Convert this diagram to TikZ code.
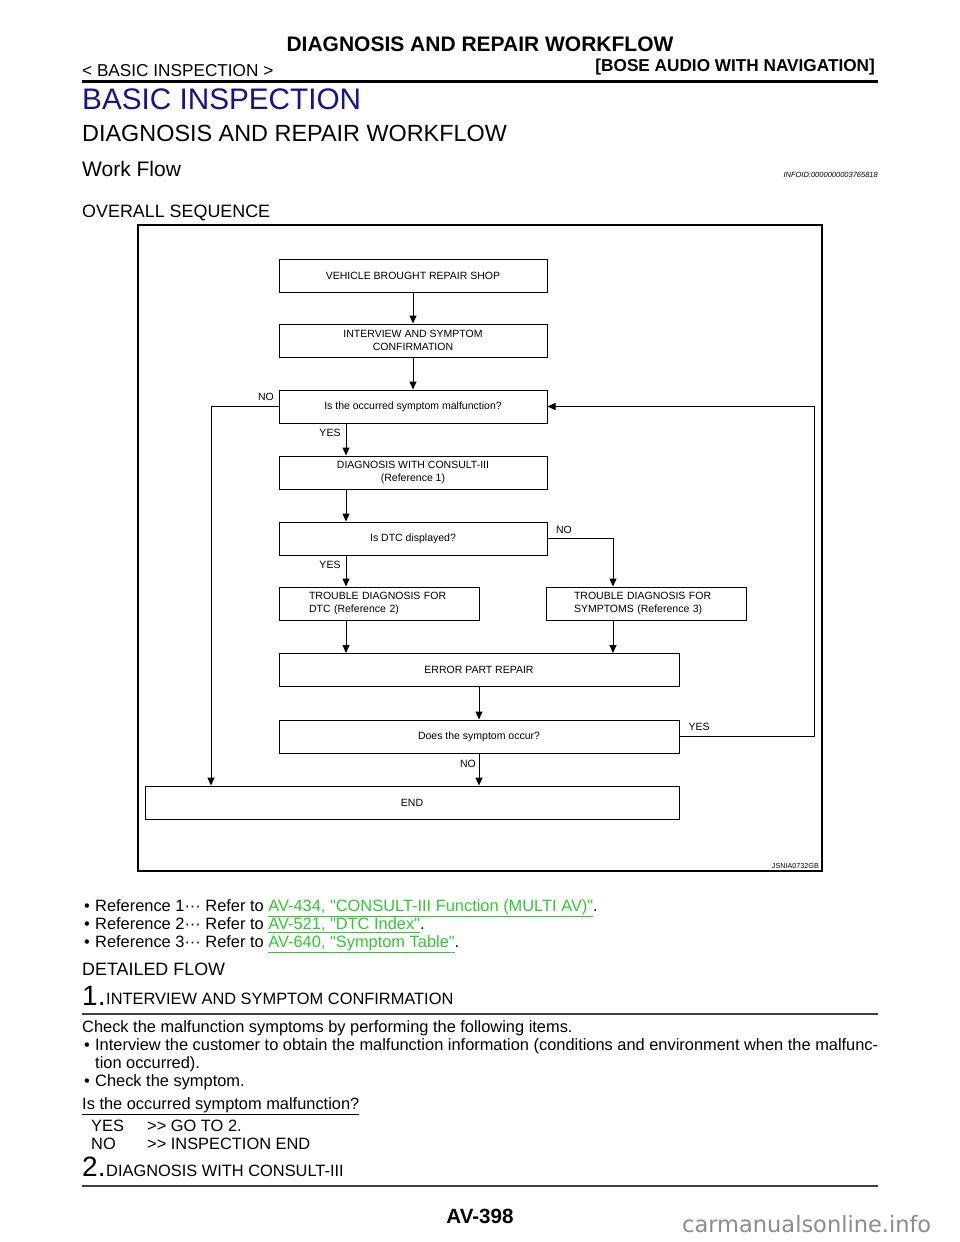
\documentclass[tikz,border=0pt]{standalone}
\usepackage{fontspec}
\setmainfont{Liberation Sans}[Ligatures=TeXOff]
\newfontfamily\wmfont{DejaVu Sans}
\usetikzlibrary{arrows.meta,positioning}
\definecolor{headblue}{RGB}{20,20,140}
\definecolor{linkgreen}{RGB}{50,200,50}
\definecolor{markgray}{RGB}{140,140,140}
\newcommand\sz[1]{\fontsize{#1}{#1}\selectfont}

\tikzset{
  box/.style={draw, line width=1pt, minimum height=33pt, inner sep=0pt, align=center,
    font=\fontsize{10.5}{13.5}\selectfont},
  lbl/.style={font=\sz{10.5}, inner sep=0pt},
  arr/.style={line width=1pt, -{Triangle[length=8pt,width=7pt]}},
  txt/.style={anchor=base west, inner sep=0pt, font=\sz{16.4}},
  rulebar/.style={line width=2pt, black!75},
}

\begin{document}
\begin{tikzpicture}[x=1pt,y=-1pt]
\useasboundingbox (0,0) rectangle (960,1242);
\fill[white] (0,0) rectangle (960,1242);

% page head
\node[anchor=base, inner sep=0pt, font=\bfseries\sz{21}] (title) at (480,51.5) {DIAGNOSIS AND REPAIR WORKFLOW};
\node[txt, font=\sz{17.2}] (sect) at (82,76) {< BASIC INSPECTION >};
\node[anchor=base east, inner sep=0pt, font=\bfseries\sz{17.2}] (model) at (875,71) {[BOSE AUDIO WITH NAVIGATION]};
\draw[line width=3pt] (82,81) -- (878,81);
\node[txt, font=\sz{29.7}, text=headblue] (h0) at (82,109) {BASIC INSPECTION};
\node[txt, font=\sz{23.4}] (h1) at (82,141) {DIAGNOSIS AND REPAIR WORKFLOW};
\node[txt, font=\sz{21}] (h2) at (82,176) {Work Flow};
\node[anchor=base east, inner sep=0pt, font=\itshape\sz{7.5}] (infoid) at (878,177) {INFOID:0000000003765818};
\node[txt, font=\sz{17.9}] (h3) at (82,217) {OVERALL SEQUENCE};

% flow chart
\draw[line width=1.6pt] (138,225) rectangle (822,871);
\node[box, minimum width=268pt] (shop) at (413,275.5) {VEHICLE BROUGHT REPAIR SHOP};
\node[box, minimum width=268pt] (interview) at (413,340.5) {INTERVIEW AND SYMPTOM\\CONFIRMATION};
\node[box, minimum width=268pt] (malf) at (413,406.5) {Is the occurred symptom malfunction?};
\node[box, minimum width=268pt] (consult) at (413,472.5) {DIAGNOSIS WITH CONSULT-III\\(Reference 1)};
\node[box, minimum width=268pt] (dtc) at (413,538.5) {Is DTC displayed?};
\node[box, minimum width=200pt, align=left, text width=140pt] (trdtc) at (379,603.5) {TROUBLE DIAGNOSIS FOR\\DTC (Reference 2)};
\node[box, minimum width=200pt, align=left, text width=144pt] (trsym) at (646,603.5) {TROUBLE DIAGNOSIS FOR\\SYMPTOMS (Reference 3)};
\node[box, minimum width=400pt] (repair) at (479,670) {ERROR PART REPAIR};
\node[box, minimum width=400pt] (occur) at (479,736.5) {Does the symptom occur?};
\node[box, minimum width=534pt] (finish) at (412,802.5) {END};

\coordinate (lx) at (346,0);
\coordinate (rx) at (613,0);
\coordinate (nx) at (211,0);
\coordinate (yx) at (814,0);

\draw[arr] (shop) -- (interview);
\draw[arr] (interview) -- (malf);
\draw[arr] (malf.south -| lx) -- (consult.north -| lx);
\draw[arr] (consult.south -| lx) -- (dtc.north -| lx);
\draw[arr] (malf.west) -| (finish.north -| nx);
\draw[arr] (dtc.south -| lx) -- (trdtc.north -| lx);
\draw[arr] (dtc.east) -| (trsym.north -| rx);
\draw[arr] (trdtc.south -| lx) -- (repair.north -| lx);
\draw[arr] (trsym.south -| rx) -- (repair.north -| rx);
\draw[arr] (repair) -- (occur);
\draw[arr] (occur.south) -- (finish.north -| occur.south);
\draw[arr] (occur.east) -- (occur.east -| yx) |- (malf.east);

\node[lbl] (no1) at (266,397) {NO};
\node[lbl] (yes1) at (330,433) {YES};
\node[lbl] (no2) at (564,530) {NO};
\node[lbl] (yes2) at (330,565) {YES};
\node[lbl] (yes3) at (699,727) {YES};
\node[lbl] (no3) at (468,764) {NO};
\node[anchor=base east, inner sep=0pt, font=\sz{7.2}] (figid) at (819,868) {JSNIA0732GB};

% references
\node[txt] (ref1) at (84,911) {\makebox[11pt][l]{•}Reference 1··· Refer to \textcolor{linkgreen}{\underline{AV-434, "CONSULT-III Function (MULTI AV)"}}.};
\node[txt] (ref2) at (84,929) {\makebox[11pt][l]{•}Reference 2··· Refer to \textcolor{linkgreen}{\underline{AV-521, "DTC Index"}}.};
\node[txt] (ref3) at (84,947) {\makebox[11pt][l]{•}Reference 3··· Refer to \textcolor{linkgreen}{\underline{AV-640, "Symptom Table"}}.};

% detailed flow
\node[txt, font=\sz{17.9}] (h4) at (82,975) {DETAILED FLOW};
\node[txt, font=\sz{28}] (st1) at (82,1005) {1.};
\node[txt] (st1t) at (106,1004) {INTERVIEW AND SYMPTOM CONFIRMATION};
\draw[rulebar] (82,1014) -- (878,1014);
\node[txt] (p1) at (82,1032) {Check the malfunction symptoms by performing the following items.};
\node[txt] (p2) at (84,1050) {\makebox[11pt][l]{•}Interview the customer to obtain the malfunction information (conditions and environment when the malfunc-};
\node[txt] (p3) at (95,1068) {tion occurred).};
\node[txt] (p4) at (84,1086) {\makebox[11pt][l]{•}Check the symptom.};
\node[txt] (q1) at (82,1109) {\underline{Is the occurred symptom malfunction?}};
\node[txt] (yes) at (91,1131) {YES};
\node[txt] (yesgo) at (147,1131) {>{}> GO TO 2.};
\node[txt] (no) at (91,1149) {NO};
\node[txt] (nogo) at (147,1149) {>{}> INSPECTION END};
\node[txt, font=\sz{28}] (st2) at (82,1176) {2.};
\node[txt] (st2t) at (106,1176) {DIAGNOSIS WITH CONSULT-III};
\draw[rulebar] (82,1186) -- (878,1186);

% foot
\node[anchor=base, inner sep=0pt, font=\bfseries\sz{20.6}] (page) at (480,1223) {AV-398};
\node[anchor=base west, inner sep=0pt, font=\wmfont\sz{22.5}, text=markgray] (wm) at (682,1232) {carmanualsonline.info};
\end{tikzpicture}
\end{document}
